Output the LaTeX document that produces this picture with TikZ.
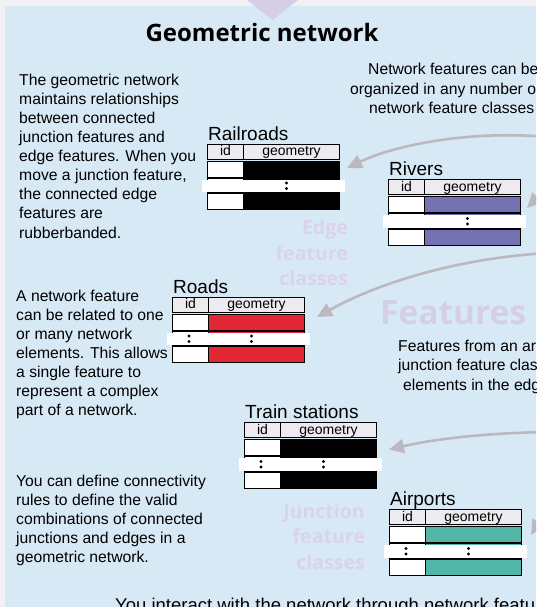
\documentclass[tikz,border=0pt]{standalone}
\usepackage{fontspec}
\setmainfont{Liberation Sans}
\newfontfamily\gillfont{Open Sans}
\usetikzlibrary{arrows.meta}

\definecolor{outerbg}{HTML}{F2F0F4}
\definecolor{panel}{HTML}{D8E9F6}
\definecolor{lav}{HTML}{D6CEE5}
\definecolor{lavlight}{HTML}{DAD3EA}
\definecolor{arrowgray}{HTML}{BBB9BF}
\definecolor{hdr}{HTML}{EDEBEF}
\definecolor{railfill}{HTML}{000000}
\definecolor{riverfill}{HTML}{7472B2}
\definecolor{roadfill}{HTML}{E12634}
\definecolor{airfill}{HTML}{52B7A6}

% #1 name, #2 left x, #3 header top y, #4 title, #5 fill, #6 dots in id column (1/0)
\newcommand\FTable[6]{%
\begin{scope}[shift={(#2,#3)}]
  \node[tabtitle] (#1-title) at (0.5,-4) {#4};
  \draw[cell,fill=hdr] (0,0) rectangle (36,15);
  \draw[cell,fill=hdr] (36,0) rectangle (132,15);
  \node[hdrtext] (#1-id) at (18,11.5) {id};
  \node[hdrtext] (#1-geo) at (84,11.5) {geometry};
  \draw[cell,fill=white] (0,17) rectangle (36,33);
  \draw[cell,fill=#5] (36,17) rectangle (132,33);
  \draw[cell,fill=white] (0,34) rectangle (36,48.5);
  \draw[cell,fill=#5] (36,34) rectangle (132,48.5);
  \draw[cell,fill=white] (0,49.5) rectangle (36,65.5);
  \draw[cell,fill=#5] (36,49.5) rectangle (132,65.5);
  \fill[white] (-6,35.5) rectangle (137,48);
  \fill (79,39) circle (1.6) (79,44.5) circle (1.6);
  \ifnum#6=1 \fill (16.5,39) circle (1.6) (16.5,44.5) circle (1.6);\fi
\end{scope}}

\begin{document}
\begin{tikzpicture}[x=1pt,y=-1pt,
  body/.style={font=\fontsize{15.7}{19.1}\selectfont, align=left, inner sep=0pt, anchor=north west},
  bodyline/.style={font=\fontsize{15.7}{19.1}\selectfont, inner sep=0pt, anchor=base west},
  tabtitle/.style={font=\fontsize{19}{22}\selectfont, inner sep=0pt, anchor=base west},
  hdrtext/.style={font=\fontsize{14}{16}\selectfont, inner sep=0pt, anchor=base},
  cell/.style={draw=black, line width=0.9pt},
  lavlabel/.style={font=\gillfont\bfseries\fontsize{19.5}{25.5}\selectfont, text=lavlight, align=right, inner sep=0pt, anchor=north east},
  garrow/.style={draw=arrowgray, line width=2.6pt, -{Triangle[length=15pt,width=14pt]}}]
\useasboundingbox (0,0) rectangle (536,607);
\clip (0,0) rectangle (536,607);
\fill[outerbg] (0,0) rectangle (536,607);
\fill[panel] (5,6) rectangle (536,607);
\fill[lav] (247,0) -- (298,0) -- (272.5,20) -- cycle;

\node[font=\gillfont\bfseries\fontsize{24}{28}\selectfont, inner sep=0pt, anchor=base] (title) at (262,41.5) {Geometric network};

\node[body] (txt1) at (19,73.7) {The geometric network\\maintains relationships\\between connected\\junction features and\\edge features. When you\\move a junction feature,\\the connected edge\\features are\\rubberbanded.};
\node[body] (txt2) at (16,289.7) {A network feature\\can be related to one\\or many network\\elements. This allows\\a single feature to\\represent a complex\\part of a network.};
\node[body] (txt3) at (16,474.7) {You can define connectivity\\rules to define the valid\\combinations of connected\\junctions and edges in a\\geometric network.};

\node[bodyline] (tr1) at (368,75) {Network features can be};
\node[bodyline] (tr2) at (350,94.3) {organized in any number o};
\node[bodyline] (tr3) at (369,113.3) {network feature classes};

\node[font=\gillfont\bfseries\fontsize{33.5}{38}\selectfont, text=lav, inner sep=0pt, anchor=base west] (features) at (380,324) {Features};
\node[bodyline] (fr1) at (398,351) {Features from an ar};
\node[bodyline] (fr2) at (398,370.7) {junction feature clas};
\node[bodyline] (fr3) at (403,390) {elements in the edg};

\node[font=\fontsize{18.5}{22}\selectfont, inner sep=0pt, anchor=base west] (bottom) at (115,611.3) {You interact with the network through network featu};

\node[lavlabel] (edgecls) at (348,219.5) {Edge\\feature\\classes};
\node[lavlabel] (junccls) at (365,503) {Junction\\feature\\classes};

\FTable{rail}{207.5}{144}{Railroads}{railfill}{0}
\FTable{river}{388.5}{179.5}{Rivers}{riverfill}{0}
\FTable{road}{172.5}{297}{Roads}{roadfill}{1}
\FTable{train}{244.5}{422.5}{Train stations}{railfill}{1}
\FTable{air}{389.5}{509.5}{Airports}{airfill}{1}

\coordinate (a1s) at (548,137);
\coordinate (a1e) at (347,168);
\coordinate (a2s) at (575,175);
\coordinate (a2e) at (527,208);
\coordinate (a3s) at (548,253);
\coordinate (a3e) at (317,317);
\coordinate (a4s) at (548,432);
\coordinate (a4e) at (389,449.5);
\coordinate (a5s) at (575,500);
\coordinate (a5e) at (531,535);
\draw[garrow] (a1s) .. controls (470,130) and (395,145) .. (a1e);
\draw[garrow] (a2s) .. controls (555,180) and (540,195) .. (a2e);
\draw[garrow] (a3s) .. controls (460,258) and (380,282) .. (a3e);
\draw[garrow] (a4s) .. controls (480,433) and (430,440) .. (a4e);
\draw[garrow] (a5s) .. controls (555,505) and (540,520) .. (a5e);
\end{tikzpicture}
\end{document}
